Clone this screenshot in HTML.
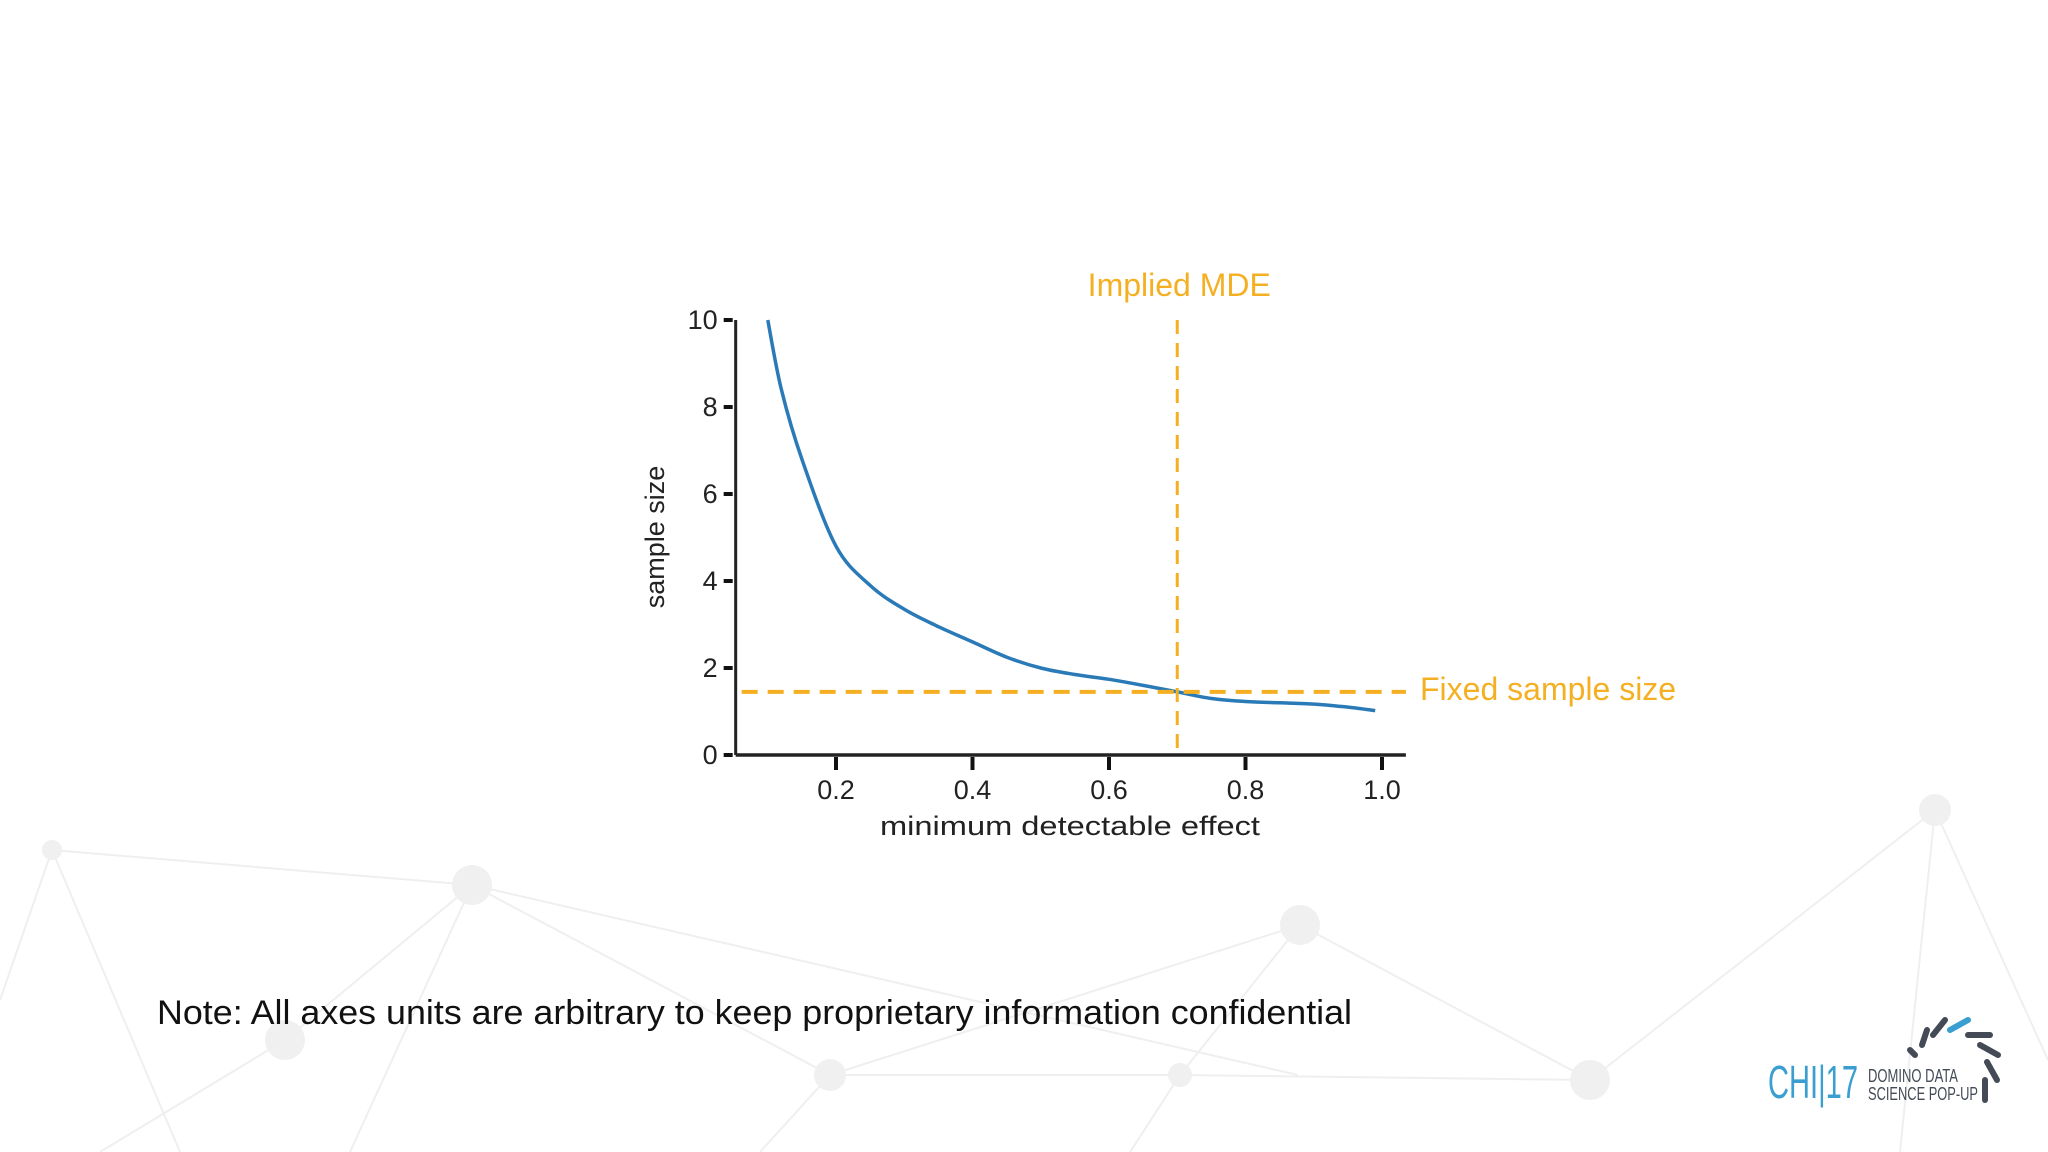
<!DOCTYPE html>
<html><head><meta charset="utf-8"><style>
html,body{margin:0;padding:0;background:#fff}
body{width:2048px;height:1152px;overflow:hidden;position:relative;font-family:"Liberation Sans",sans-serif}
svg{position:absolute;left:0;top:0}
</style></head><body>
<svg width="2048" height="1152">
<g stroke="#efefef" stroke-width="2" fill="none">
<path d="M52 850 L472 885 L1298 1075 M52 850 L0 1000 M52 850 L180 1152 M472 885 L285 1040 L100 1152 M472 885 L350 1152 M472 885 L830 1075 M1300 925 L830 1075 M1300 925 L1590 1080 M1300 925 L1180 1075 L1130 1152 M1935 810 L1590 1080 M1935 810 L2048 1060 M1935 810 L1900 1152 M830 1075 L1180 1075 L1590 1080 M830 1075 L760 1152"/>
</g>
<g fill="#f0f0f0">
<circle cx="52" cy="850" r="10"/><circle cx="472" cy="885" r="20"/><circle cx="1300" cy="925" r="20"/><circle cx="1935" cy="810" r="16"/><circle cx="285" cy="1040" r="20"/><circle cx="830" cy="1075" r="16"/><circle cx="1180" cy="1075" r="12"/><circle cx="1590" cy="1080" r="20"/>
</g>
<g id="chart"></g>
<text x="157" y="1024" font-size="34" fill="#111" textLength="1195" lengthAdjust="spacingAndGlyphs" font-family="'Liberation Sans',sans-serif">Note: All axes units are arbitrary to keep proprietary information confidential</text>
<g>
<text x="1768" y="1098" font-size="46" fill="#3a9fd0" font-family="'Liberation Sans Narrow','Liberation Sans',sans-serif" textLength="90" lengthAdjust="spacingAndGlyphs">CHI|17</text>
<text x="1868" y="1082" font-size="18" fill="#444b57" textLength="90" lengthAdjust="spacingAndGlyphs">DOMINO DATA</text>
<text x="1868" y="1100" font-size="18" fill="#444b57" textLength="110" lengthAdjust="spacingAndGlyphs">SCIENCE POP-UP</text>
<g stroke="#444b57" stroke-width="6" stroke-linecap="round">
<line x1="1910" y1="1050" x2="1915" y2="1055"/><line x1="1922" y1="1045" x2="1927" y2="1030"/><line x1="1933" y1="1035" x2="1945" y2="1020"/>
<line x1="1968" y1="1035" x2="1990" y2="1035"/><line x1="1980" y1="1045" x2="1998" y2="1055"/><line x1="1987" y1="1062" x2="1997" y2="1080"/><line x1="1985" y1="1080" x2="1985" y2="1100"/>
</g>
<line x1="1950" y1="1030" x2="1968" y2="1020" stroke="#3a9fd0" stroke-width="6" stroke-linecap="round"/>
</g>
</svg>
<script>
const xTicks=[0.2,0.4,0.6,0.8,1.0];
const xTickLabels=["0.2","0.4","0.6","0.8","1.0"];
const yTicks=[0,2,4,6,8,10];
const yTickLabels=["0","2","4","6","8","10"];
const curveX=[0.1,0.12,0.15,0.2,0.25,0.3,0.35,0.4,0.45,0.5,0.55,0.6,0.65,0.7,0.75,0.8,0.85,0.9,0.95,0.99];
const curveY=[10,8.4,6.8,4.8,3.9,3.35,2.95,2.6,2.25,2.0,1.85,1.74,1.6,1.45,1.3,1.23,1.2,1.17,1.1,1.02];
const mdeX=[0.7];
const fixedY=[1.45];
const ns="http://www.w3.org/2000/svg";
const g=document.getElementById('chart');
const X=v=>699.5+v*682.5;
const Y=v=>755-v*43.5;
const xMin=0.053,xMax=1.035;
function mk(t,a,p){const e=document.createElementNS(ns,t);for(const k in a)e.setAttribute(k,a[k]);(p||g).appendChild(e);return e;}
function smooth(px,py){let d='M'+px[0].toFixed(1)+' '+py[0].toFixed(1);for(let i=0;i<px.length-1;i++){const i0=Math.max(0,i-1),i3=Math.min(px.length-1,i+2);const c1x=px[i]+(px[i+1]-px[i0])/6,c1y=py[i]+(py[i+1]-py[i0])/6,c2x=px[i+1]-(px[i3]-px[i])/6,c2y=py[i+1]-(py[i3]-py[i])/6;d+=` C${c1x.toFixed(1)} ${c1y.toFixed(1)} ${c2x.toFixed(1)} ${c2y.toFixed(1)} ${px[i+1].toFixed(1)} ${py[i+1].toFixed(1)}`;}return d;}
let e;
e=mk('line',{x1:X(xMin),y1:Y(10),x2:X(xMin),y2:Y(0),stroke:'#222','stroke-width':3});


e=mk('line',{x1:X(xMin),y1:Y(0),x2:X(xMax),y2:Y(0),stroke:'#222','stroke-width':3.5});


yTicks.forEach((v,i)=>{
 e=mk('line',{x1:X(xMin)-12,y1:Y(v),x2:X(xMin)-3,y2:Y(v),stroke:'#111','stroke-width':4});
 
 
 e=mk('text',{x:X(xMin)-18,y:Y(v)+9,'text-anchor':'end','font-size':27,fill:'#222'});
 e.textContent=yTickLabels[i];
 
 
});
xTicks.forEach((v,i)=>{
 e=mk('line',{x1:X(v),y1:Y(0)+2,x2:X(v),y2:Y(0)+15,stroke:'#111','stroke-width':4});
 
 
 e=mk('text',{x:X(v),y:Y(0)+44,'text-anchor':'middle','font-size':27,fill:'#222'});
 e.textContent=xTickLabels[i];
 
 
});
e=mk('text',{x:1070,y:835,'text-anchor':'middle','font-size':27,fill:'#222',textLength:380,lengthAdjust:'spacingAndGlyphs'});
e.textContent='minimum detectable effect';


e=mk('text',{x:0,y:0,'text-anchor':'middle','font-size':27,fill:'#222',transform:'translate(664,537) rotate(-90)'});
e.textContent='sample size';


e=mk('path',{d:smooth(curveX.map(X),curveY.map(Y)),fill:'none',stroke:'#2a7ab8','stroke-width':3.5,'stroke-linejoin':'round'});


e=mk('line',{x1:X(xMin)+6,y1:Y(fixedY[0]),x2:X(xMax),y2:Y(fixedY[0]),stroke:'#f4b022','stroke-width':4,'stroke-dasharray':'16 10'});


e=mk('line',{x1:X(mdeX[0]),y1:Y(10),x2:X(mdeX[0]),y2:Y(0),stroke:'#f4b022','stroke-width':3,'stroke-dasharray':'14 9'});


e=mk('text',{x:X(mdeX[0])+2,y:296,'text-anchor':'middle','font-size':32,fill:'#f4b022'});
e.textContent='Implied MDE';


e=mk('text',{x:1420,y:700,'font-size':32,fill:'#f4b022'});
e.textContent='Fixed sample size';


</script>
</body></html>
